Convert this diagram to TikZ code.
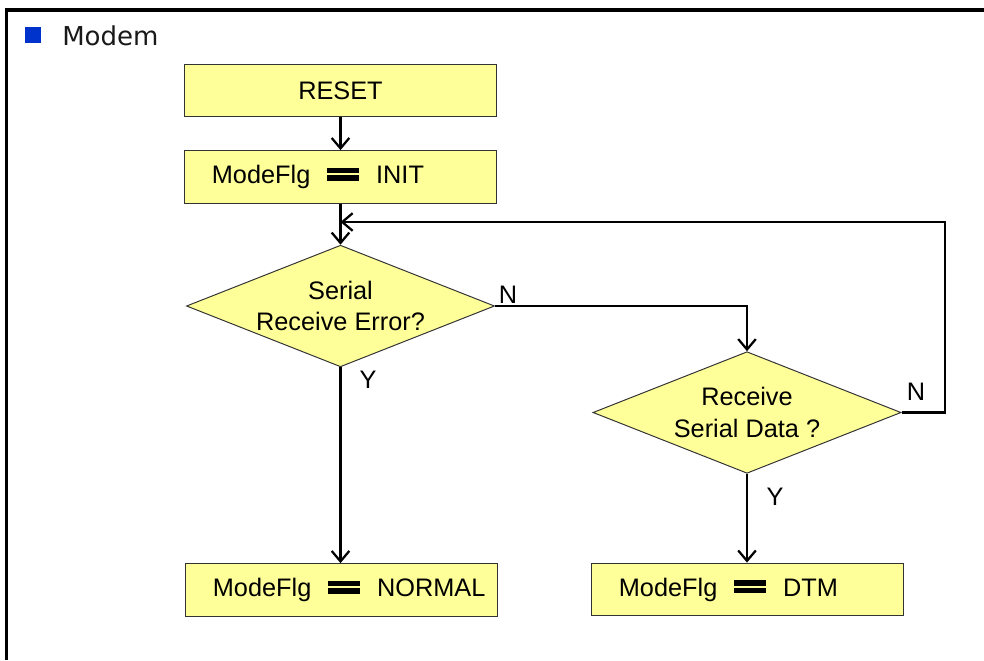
\documentclass[tikz,border=0pt]{standalone}
\usepackage{fontspec}
\setmainfont{Liberation Sans}
\newfontfamily\titlefont{DejaVu Sans}
\usetikzlibrary{shapes.geometric,arrows.meta}
\definecolor{boxyellow}{HTML}{FFFF99}
\definecolor{bulletblue}{HTML}{0033CC}
\definecolor{edgegray}{HTML}{333333}
% thick double bar used between flag name and value
\newcommand{\eqbars}{\hspace{12pt}\rlap{\rule[1.9pt]{22.8pt}{3.9pt}}\rule[7.2pt]{22.8pt}{3.9pt}\hspace{12pt}}
\begin{document}
\begin{tikzpicture}[x=0.025cm, y=-0.025cm,
	every node/.style={font=\fontsize{18pt}{22.5pt}\selectfont},
	procbox/.style={shape=rectangle, draw=edgegray, line width=0.7pt, fill=boxyellow, minimum width=7.78cm, minimum height=1.32cm, inner ysep=0pt},
	flagbox/.style={procbox, text width=7.38cm, inner xsep=0.2cm, align=left, execute at begin node=\hspace*{0.475cm}},
	decision/.style={shape=diamond, draw=edgegray, line width=0.7pt, fill=boxyellow, aspect=2.52, minimum width=7.7cm, minimum height=3.04cm, inner sep=0pt, align=center},
	wire/.style={line width=1.8pt, -{Straight Barb[length=2.6mm, width=4.4mm, line width=1.6pt]}}]
	\useasboundingbox (0,0) rectangle (984,660);
	% Frame and title:
	\draw[line width=2.4pt] (6.5,660) -- (6.5,10) -- (984,10);
	\node[shape=rectangle, fill=bulletblue, minimum size=0.4cm, inner sep=0pt] (bullet) at (33,34.5){};
	\node[anchor=west, inner sep=0pt, font=\titlefont\fontsize{18.5pt}{22pt}\selectfont, text=black!90] (title) at (62,36){Modem};
	% Paths, nodes and wires:
	\node[procbox, align=center] (reset) at (340.5,90.5){RESET};
	\node[flagbox] (init) at (340.5,177){ModeFlg\eqbars INIT};
	\node[decision] (rxerr) at (340.5,306){Serial\\Receive Error?};
	\node[decision] (rxdata) at (747,412.5){Receive\\Serial Data ?};
	\node[flagbox] (normal) at (341.5,590){ModeFlg\eqbars NORMAL};
	\node[flagbox] (dtm) at (747.5,589.5){ModeFlg\eqbars DTM};
	\coordinate (join) at (340.5,222);
	\coordinate (loop) at (945,222);
	\coordinate (turn) at (747,306);
	\draw[wire] (reset) -- (init);
	\draw[wire] (init) -- (rxerr);
	\draw[wire] (rxerr.south) -- (normal.north -| rxerr.south);
	\draw[wire] (rxerr.east) -- (turn) -- (rxdata.north);
	\draw[wire] (rxdata) -- (dtm.north -| rxdata.south);
	\draw[wire] (rxdata.east) -| (loop) -- (join);
	\node (n1) at (508,295){N};
	\node (y1) at (368,380){Y};
	\node (n2) at (916,392){N};
	\node (y2) at (775,497){Y};
\end{tikzpicture}
\end{document}
